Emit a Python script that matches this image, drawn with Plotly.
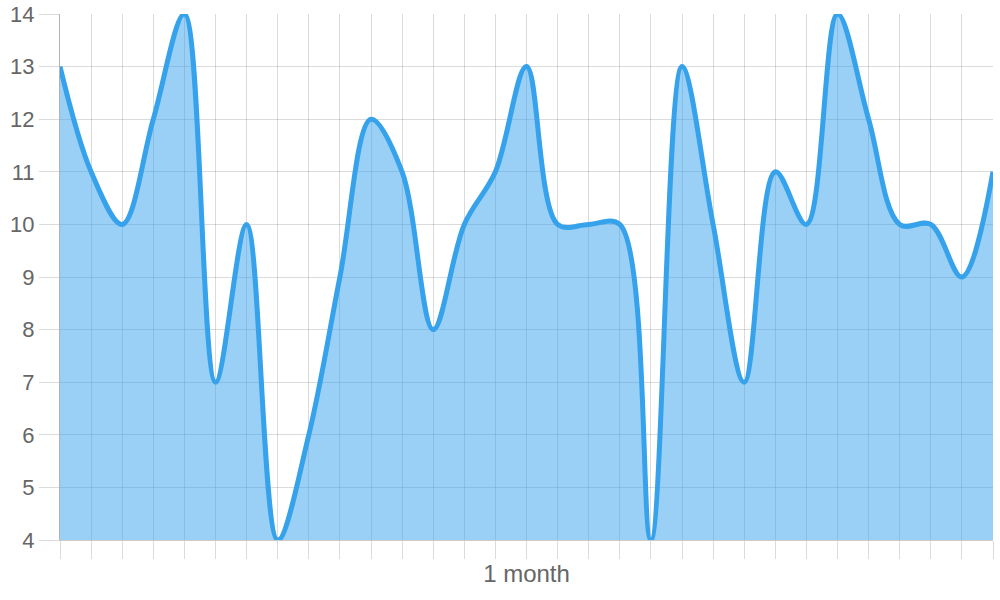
import plotly.graph_objects as go

# one value per day of the month
days = list(range(31))
values = [13, 11, 10, 12, 14, 7, 10, 4, 6, 9, 12, 11, 8, 10, 11, 13,
          10, 10, 10, 4, 13, 10, 7, 11, 10, 14, 12, 10, 10, 9, 11]
y_ticks = list(range(4, 15))

LINE = "rgb(54,162,235)"
FILL = "rgba(54,162,235,0.5)"
GRID = "rgba(0,0,0,0.14)"
TEXT = "#666666"

fig = go.Figure()
fig.add_trace(go.Scatter(
    x=days, y=values,
    mode="lines",
    line=dict(color=LINE, width=5, shape="spline", smoothing=1.0),
    fill="tozeroy", fillcolor=FILL,
    hoverinfo="skip",
))

fig.update_layout(
    width=1000, height=600,
    margin=dict(l=60, r=7, t=14, b=60),
    paper_bgcolor="white", plot_bgcolor="white",
    showlegend=False,
    font=dict(family="Liberation Sans, Arial, sans-serif", color=TEXT),
)
fig.update_xaxes(
    range=[0, 30], tickmode="linear", tick0=0, dtick=1,
    showticklabels=False, automargin=False,
    ticks="outside", ticklen=18, tickcolor=GRID, tickwidth=1,
    showgrid=True, gridcolor=GRID, gridwidth=1,
    showline=True, linecolor="rgba(0,0,0,0.2)", linewidth=1,
    zeroline=False,
    title=dict(text="1 month", font=dict(size=24, color=TEXT), standoff=7),
)
fig.update_yaxes(
    range=[4, 14], tickvals=y_ticks, automargin=False,
    ticks="outside", ticklen=20, tickcolor=GRID, tickwidth=1,
    tickfont=dict(size=22, color=TEXT), ticklabeloverflow="allow",
    showgrid=True, gridcolor=GRID, gridwidth=1,
    showline=True, linecolor="rgba(0,0,0,0.3)", linewidth=1,
    zeroline=False,
)

# drop the browser's default 8px body margin so the figure sits at (0, 0)
fig.write_html("out.html", config={"displayModeBar": False},
               post_script="document.body.style.margin = '0';")
